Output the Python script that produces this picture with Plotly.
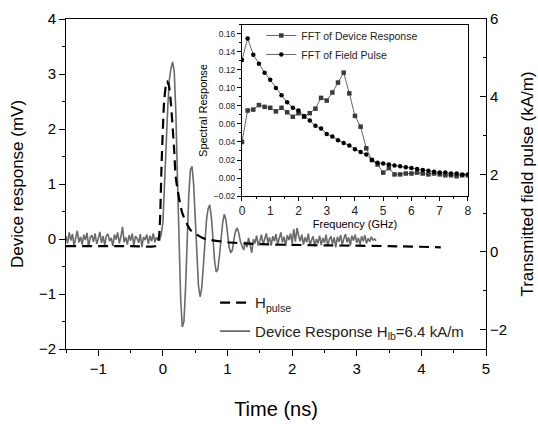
import numpy as np
import plotly.graph_objects as go

# ---------------- data ----------------
# Device response (mV), sampled every 0.025 ns in three segments
resp_dt = 0.025
resp_pre_start = -1.5
resp_pre = [0.05,-0.08,0.12,-0.03,0.09,-0.12,0.02,0.15,-0.06,0.04,
            -0.1,0.08,-0.02,0.11,-0.14,0.03,0.07,-0.05,0.1,-0.09,
            0.01,0.13,-0.07,0.05,-0.11,0.06,0.09,-0.04,0.02,-0.13,
            0.08,-0.01,0.12,-0.08,0.04,0.22,-0.06,0.03,-0.1,0.07,
            -0.03,0.1,-0.12,0.05,0.01,-0.07,0.09,-0.15,0.04,-0.02,
            0.08,-0.09,0.06,-0.04,0.1,-0.06,0.03,-0.01]
resp_pulse_start = -0.05
resp_pulse = [-0.02,0.1,0.3,0.9,1.7,2.4,2.9,3.1,3.22,3.05,
              2.3,1.1,-0.1,-1.1,-1.6,-1.5,-0.9,0.0,0.8,1.25,
              1.32,1.0,0.4,-0.3,-0.85,-1.05,-0.9,-0.5,0.0,0.35,
              0.55,0.62,0.4,0.0,-0.4,-0.6,-0.55,-0.3,0.05,0.3,
              0.45,0.35,0.1,-0.15,-0.25,-0.2,0.0,0.15,0.2,0.1,-0.05]
resp_post_start = 1.225
resp_post = [-0.12,-0.2,-0.05,-0.15,0.02,-0.1,-0.25,0.0,-0.08,0.06,
             -0.12,-0.03,0.08,-0.1,-0.02,0.1,-0.07,0.03,-0.12,0.05,
             -0.04,0.09,-0.1,0.02,0.12,-0.06,0.04,-0.13,0.07,-0.02,
             0.1,-0.08,0.18,-0.05,0.2,0.06,-0.04,0.08,-0.1,0.03,
             -0.06,0.1,-0.12,-0.02,0.05,-0.14,0.0,-0.08,0.06,-0.11,
             0.02,-0.07,0.08,-0.13,-0.01,0.05,-0.09,0.03,-0.15,0.04,
             -0.05,0.07,-0.1,0.01,0.09,-0.06,0.03,-0.12,0.06,-0.03,
             0.08,-0.07,0.02,-0.1,0.05,-0.04,0.07,-0.08,0.01,-0.05,
             0.04,-0.02,0.0,-0.03]

# Transmitted field pulse (kA/m)
pulse_t = [-1.5,-0.5,-0.1,-0.06,-0.02,0.02,0.06,0.09,0.12,0.175,0.2,0.3,0.43,0.63,1.0,1.5,2.5,3.5,4.3]
pulse_v = [0.15,0.15,0.16,0.4,2.3,3.9,4.4,4.3,3.9,2.6,1.9,1.0,0.56,0.35,0.25,0.2,0.17,0.15,0.12]

# Inset spectra
freq = [round(0.2*i, 1) for i in range(41)]
fft_device = [0.040,0.075,0.076,0.081,0.079,0.078,0.074,0.078,0.073,0.068,
              0.072,0.068,0.072,0.077,0.089,0.086,0.095,0.106,0.117,0.094,
              0.069,0.057,0.033,0.020,0.015,0.006,0.011,0.004,0.004,0.005,
              0.005,0.006,0.005,0.004,0.005,0.004,0.003,0.003,0.002,0.003,0.003]
fft_field = [0.131,0.155,0.137,0.127,0.117,0.109,0.100,0.092,0.084,0.078,
             0.075,0.069,0.064,0.058,0.055,0.049,0.046,0.042,0.039,0.036,
             0.032,0.029,0.026,0.020,0.017,0.016,0.015,0.014,0.013,0.012,
             0.011,0.010,0.009,0.008,0.007,0.006,0.006,0.005,0.005,0.004,0.004]

# ---------------- build ----------------
def seg_times(start, vals):
    return [start + resp_dt*i for i in range(len(vals))]

resp_t = seg_times(resp_pre_start, resp_pre) + seg_times(resp_pulse_start, resp_pulse) + seg_times(resp_post_start, resp_post)
resp_v = resp_pre + resp_pulse + resp_post

FONT = "Liberation Sans, Arial, sans-serif"
fig = go.Figure()

fig.add_trace(go.Scatter(x=pulse_t, y=pulse_v, mode="lines", yaxis="y2",
                         line=dict(color="black", width=2.2, dash="10px,6px", shape="spline", smoothing=0.6),
                         name="H<sub>pulse</sub>", legend="legend", legendgroup="a"))
fig.add_trace(go.Scatter(x=resp_t, y=resp_v, mode="lines",
                         line=dict(color="#6a6a6a", width=1.6),
                         name="Device Response H<sub>lb</sub>=6.4 kA/m", legend="legend", legendgroup="b"))

fig.add_trace(go.Scatter(x=freq, y=fft_device, mode="lines+markers", xaxis="x2", yaxis="y3",
                         line=dict(color="#666666", width=1),
                         marker=dict(symbol="square", size=4.5, color="#3a3a3a"),
                         name="FFT of Device Response", legend="legend2"))
fig.add_trace(go.Scatter(x=freq, y=fft_field, mode="lines+markers", xaxis="x2", yaxis="y3",
                         line=dict(color="black", width=0.6),
                         marker=dict(symbol="circle", size=4.5, color="black"),
                         name="FFT of Field Pulse", legend="legend2"))

axis_common = dict(showline=True, linecolor="black", linewidth=1, showgrid=False, zeroline=False,
                   automargin=False,
                   ticks="outside", tickcolor="black", tickfont=dict(family=FONT, size=15, color="black"))

fig.update_layout(
    width=538, height=424,
    margin=dict(l=66, r=52, t=19, b=75),
    paper_bgcolor="white", plot_bgcolor="white",
    font=dict(family=FONT, color="black"),
    xaxis=dict(**axis_common, range=[-1.5, 5], dtick=1, tick0=0, ticklen=6, mirror=True,
               minor=dict(dtick=0.5, ticklen=3, ticks="outside", tickcolor="black"),
               title=dict(text="Time (ns)", font=dict(family=FONT, size=20), standoff=25)),
    yaxis=dict(**axis_common, range=[-2, 4], dtick=1, ticklen=6,
               minor=dict(dtick=0.5, ticklen=3, ticks="outside", tickcolor="black"),
               title=dict(text="Device response (mV)", font=dict(family=FONT, size=17), standoff=10)),
    yaxis2=dict(showline=True, linecolor="black", linewidth=1, showgrid=False, zeroline=False,
                automargin=False,
                overlaying="y", side="right", range=[-2.5, 6], dtick=2, tick0=0,
                ticks="inside", ticklen=6, tickcolor="black",
                tickfont=dict(family=FONT, size=15, color="black"),
                minor=dict(dtick=1, ticklen=3, ticks="inside", tickcolor="black"),
                title=dict(text="Transmitted field pulse (kA/m)", font=dict(family=FONT, size=17), standoff=14)),
    xaxis2=dict(domain=[0.419, 0.957], anchor="y3", range=[0, 8], dtick=1, automargin=False,
                showline=True, linecolor="black", linewidth=1, mirror=True, showgrid=False, zeroline=False,
                ticks="outside", ticklen=4, tickcolor="black",
                tickfont=dict(family=FONT, size=12, color="#222"),
                minor=dict(dtick=0.5, ticklen=2, ticks="outside", tickcolor="black"),
                title=dict(text="Frequency (GHz)", font=dict(family=FONT, size=11), standoff=0)),
    yaxis3=dict(domain=[0.4636, 0.982], anchor="x2", range=[-0.02, 0.17], dtick=0.02, tick0=0,
                tickformat=".2f", automargin=False,
                showline=True, linecolor="black", linewidth=1, mirror=True, showgrid=False, zeroline=False,
                ticks="outside", ticklen=4, tickcolor="black",
                tickfont=dict(family=FONT, size=8.5, color="#222"),
                minor=dict(dtick=0.01, ticklen=2, ticks="outside", tickcolor="black"),
                title=dict(text="Spectral Response", font=dict(family=FONT, size=11), standoff=3)),
    legend=dict(x=0.355, y=0.005, xanchor="left", yanchor="bottom", bgcolor="rgba(0,0,0,0)",
                font=dict(family=FONT, size=15, color="#222"), traceorder="grouped",
                tracegroupgap=6, itemwidth=30),
    legend2=dict(x=0.465, y=0.994, xanchor="left", yanchor="top", bgcolor="rgba(0,0,0,0)",
                 font=dict(family=FONT, size=10.5, color="#222"), tracegroupgap=0, itemwidth=30),
)

fig.write_html("out.html")
